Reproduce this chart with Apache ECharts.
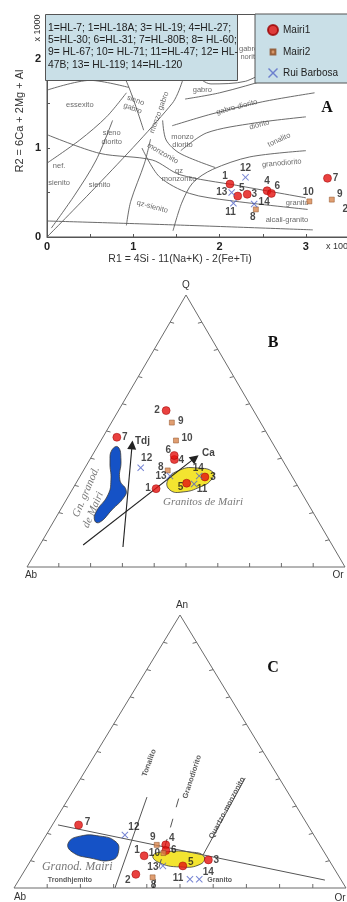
<!DOCTYPE html>
<html>
<head>
<meta charset="utf-8">
<script src="https://cdn.jsdelivr.net/npm/echarts@6/dist/echarts.min.js"></script>
<style>
  html, body { margin: 0; padding: 0; background: #fff; }
  #chart { width: 347px; height: 902px; }
</style>
</head>
<body>
<div id="chart"></div>
<script>
// sample ids per group
const mairi1Ids = ['1', '2', '3', '4', '5', '6', '7'];
const mairi2Ids = ['8', '9', '10'];
const ruiIds = ['11', '12', '13', '14'];

// A: R1 - R2 (x 1000)
const r1Mairi1 = [2.12, 3.56, 2.32, 2.55, 2.21, 2.60, 3.25];
const r2Mairi1 = [0.595, 0.31, 0.48, 0.52, 0.46, 0.49, 0.66];
const r1Mairi2 = [2.42, 3.30, 3.04];
const r2Mairi2 = [0.31, 0.42, 0.40];
const r1Rui = [2.16, 2.30, 2.14, 2.40];
const r2Rui = [0.38, 0.67, 0.50, 0.37];

// B: Q - Ab - Or (%)
const bQMairi1 = [28.8, 57.5, 33.1, 39.5, 30.8, 41.0, 47.7];
const bAbMairi1 = [45.0, 27.5, 27.5, 33.9, 34.4, 33.2, 47.9];
const bOrMairi1 = [26.2, 15.0, 39.4, 26.6, 34.8, 25.8, 4.4];
const bQMairi2 = [35.5, 53.1, 46.5];
const bAbMairi2 = [38.0, 27.9, 29.9];
const bOrMairi2 = [26.5, 19.0, 23.6];
const bQRui = [30.5, 36.5, 33.5, 33.5];
const bAbRui = [32.2, 46.0, 38.3, 29.1];
const bOrRui = [37.3, 17.5, 28.2, 37.4];

// C: An - Ab - Or (%)
const cAnMairi1 = [11.8, 5.0, 10.3, 15.8, 8.1, 13.7, 23.1];
const cAbMairi1 = [54.9, 60.8, 36.3, 46.4, 45.1, 47.4, 69.0];
const cOrMairi1 = [33.3, 34.2, 53.4, 37.8, 46.8, 38.9, 7.9];
const cAnMairi2 = [3.9, 15.8, 12.8];
const cAbMairi2 = [56.3, 49.1, 48.6];
const cOrMairi2 = [39.8, 35.1, 38.6];
const cAnRui = [3.2, 19.4, 8.1, 3.2];
const cAbRui = [45.4, 56.9, 51.1, 42.6];
const cOrRui = [51.4, 23.7, 40.8, 54.2];

// A: field boundaries [R1, R2]
const lineBase = [[0, 0.18], [1.5, 0.135], [3.08, 0.08]];
const lineDiag = [[0, 0], [1.45, 1.5], [1.62, 1.92]];
const lineNef = [[0, 0.83], [0.38, 1.09], [0.69, 1.35], [0.92, 1.62]];
const lineSienito = [[0.05, 0.1], [0.32, 0.47], [0.57, 0.865], [0.76, 1.31]];
const lineMonzonito = [[0, 1.15], [0.61, 0.94], [1.22, 0.865], [1.54, 0.70], [2.2, 0.58], [3.0, 0.44]];
const lineGranito = [[1.1, 1.0], [1.3, 0.68], [1.65, 0.49], [2.11, 0.41], [3.02, 0.31]];
const lineQzSienito = [[1.46, 0.07], [1.56, 0.38], [1.69, 0.61], [1.92, 0.76], [2.35, 0.9], [3.0, 0.97]];
const lineSienoQz = [[0.92, 0.13], [0.97, 0.4], [1.13, 0.83], [1.2, 1.1]];
const lineMonzoDiorito = [[1.34, 1.31], [1.38, 1.09], [1.54, 0.94], [1.95, 0.78]];
const lineDiorito = [[1.55, 0.97], [1.85, 1.17], [2.4, 1.28], [3.0, 1.35]];
const lineGabroDiorito = [[1.45, 1.25], [1.9, 1.38], [2.5, 1.52], [3.1, 1.62]];
const lineGabro = [[1.6, 1.55], [2.0, 1.62], [2.6, 1.78], [3.1, 1.92]];
const lineGabroArc = [[1.65, 2.3], [1.72, 1.85], [1.9, 1.72], [2.3, 1.75], [2.6, 1.9]];
const lineEssexito = [[0, 1.65], [0.5, 1.76], [0.95, 1.68]];
const lineSienoGabro = [[0.75, 2.1], [0.95, 1.68], [1.12, 1.2]];
const fieldLinesA = [lineBase, lineDiag, lineNef, lineSienito, lineMonzonito, lineGranito, lineQzSienito,
  lineSienoQz, lineMonzoDiorito, lineDiorito, lineGabroDiorito, lineGabro, lineGabroArc, lineEssexito, lineSienoGabro];

// A: field names
const fieldNamesA = ['essexito', 'sieno\ngabro', 'monzo gabro', 'gabro', 'gabro-\nnorito', 'gabro-diorito', 'diorito',
  'tonalito', 'granodiorito', 'granito', 'alcali-granito', 'qz\nmonzonito', 'qz-sienito', 'sienito', 'nef.\n\nsienito',
  'sieno\ndiorito', 'monzo\ndiorito', 'monzonito'];
const fieldR1A = [0.38, 1.01, 1.30, 1.80, 2.35, 2.20, 2.46, 2.69, 2.72, 2.90, 2.78, 1.53, 1.22, 0.61, 0.14, 0.75, 1.57, 1.34];
const fieldR2A = [1.48, 1.49, 1.40, 1.65, 2.07, 1.46, 1.26, 1.09, 0.83, 0.38, 0.19, 0.70, 0.34, 0.58, 0.70, 1.12, 1.08, 0.94];
const fieldRotA = [0, -20, 70, 0, 0, 15, 15, 25, 5, 0, 0, 0, -15, 0, 0, 0, 0, -30];

// B: fields and trends as [Q, Or]
const fieldBGranod = [[44.1, 6.6], [39.3, 9.9], [32.0, 13.2], [28.3, 17.0], [25.7, 17.7], [21.0, 16.2], [16.5, 14.7],
  [16.9, 12.9], [20.2, 11.6], [26.5, 12.2], [32.0, 10.4], [38.6, 6.8], [43.0, 5.2]];
const fieldBGranitos = [[32.0, 28.3], [35.7, 30.3], [36.4, 35.3], [34.9, 41.0], [32.0, 41.9], [29.4, 39.7], [27.6, 35.3], [28.3, 30.8]];
const trendTdj = [[7.35, 26.5], [44.9, 10.6]];
const trendCa = [[8.1, 13.6], [40.1, 32.8]];

// C: fields and boundaries as [An, Or]
const fieldCGranod = [[16.5, 8.1], [19.0, 10.4], [19.0, 16.4], [17.2, 21.8], [13.9, 24.6], [10.3, 24.4], [11.0, 17.4], [13.2, 10.9]];
const fieldCGranitos = [[12.1, 35.9], [13.3, 39.5], [13.2, 46.4], [11.7, 51.3], [8.8, 51.9], [7.7, 46.2], [9.5, 38.6]];
const cLineMain = [[23.1, 1.7], [2.9, 92.2]];
const cLineTonalito = [[0, 30.4], [33.3, 23.4]];
const cLineGranodiorito = [[0, 41.9], [37.0, 32.1]];
const cLineQzMonzonito = [[12.1, 50.9], [40.3, 49.5]];

// label offsets (px) per sample
const labelOffA = { '1': [-5, -8], '2': [-9, 0], '3': [7, 0], '4': [0, -9], '5': [4, -8], '6': [6, -7], '7': [8, 0],
  '8': [-3, 8], '9': [8, -5], '10': [-1, -9], '11': [-3, 9], '12': [0, -9], '13': [-10, 0], '14': [10, -2] };
const labelOffB = { '1': [-8, 0], '2': [-9, 0], '3': [8, 0], '4': [7, 1], '5': [-6, 4], '6': [-6, -5], '7': [8, 0],
  '8': [-7, -3], '9': [9, -1], '10': [11, -2], '11': [8, 5], '12': [6, -9], '13': [-9, 0], '14': [-1, -8] };
const labelOffC = { '1': [-7, -6], '2': [-8, 6], '3': [8, 0], '4': [6, -7], '5': [8, -4], '6': [8, 0], '7': [9, -3],
  '8': [1, 8], '9': [-4, -8], '10': [-9, 0], '11': [-12, -1], '12': [9, -8], '13': [-10, 1], '14': [9, -7] };

const H = Math.sqrt(3) / 2;
// ternary (top, left, right) -> x,y in the triangle frame
function tern(top, left, right) {
  const s = top + left + right;
  return [(right + top / 2) / s, (top / s) * H];
}
const tOr = (p) => tern(p[0], 100 - p[0] - p[1], p[1]);

const FONT = 'Liberation Sans';
const RED = '#e3110f', ORANGE = '#d8864e', BLUE = '#5566c8';
const X_PATH = 'path://M0,1 L1,0 L5,4 L9,0 L10,1 L6,5 L10,9 L9,10 L5,6 L1,10 L0,9 L4,5 Z';
const SMALL_SQ = 'path://M0,0 L0.01,0 Z M10,10 L10,10.01 Z M2.6,2.6 L7.4,2.6 L7.4,7.4 L2.6,7.4 Z';

function groupStyle(name) {
  if (name === 'Mairi1') return { symbol: 'circle', symbolSize: 8, itemStyle: { color: RED, borderColor: '#9a0000', borderWidth: 0.6 } };
  if (name === 'Mairi2') return { symbol: 'rect', symbolSize: 5, itemStyle: { color: ORANGE, borderColor: '#8a4a20', borderWidth: 0.6 } };
  return { symbol: X_PATH, symbolSize: 7, itemStyle: { color: BLUE } };
}

function pointSeries(name, idx, ids, pts, offs) {
  return Object.assign({
    name, type: 'scatter', xAxisIndex: idx, yAxisIndex: idx, z: 5, clip: false,
    data: ids.map((id, i) => ({
      name: id, value: pts[i],
      label: { offset: offs[id] }
    })),
    label: { show: true, position: 'inside', formatter: '{b}', fontSize: 10, fontWeight: 'bold', color: '#1a1a1a', fontFamily: FONT }
  }, groupStyle(name));
}

function frameSeries(idx) {
  return {
    type: 'custom', xAxisIndex: idx, yAxisIndex: idx, silent: true, z: 1, data: [[0, 0]],
    renderItem: (params, api) => {
      const c = (t, l, r) => api.coord(tern(t, l, r));
      const pA = c(0, 100, 0), pB = c(0, 0, 100), pT = c(100, 0, 0);
      const st = { stroke: '#6b6b6b', lineWidth: 1, fill: null };
      const children = [{ type: 'polyline', shape: { points: [pA, pB, pT, pA] }, style: st }];
      for (let f = 10; f < 100; f += 10) {
        const b = c(0, 100 - f, f);
        children.push({ type: 'line', shape: { x1: b[0], y1: b[1], x2: b[0], y2: b[1] - 4 }, style: st });
        const l = c(f, 100 - f, 0);
        children.push({ type: 'line', shape: { x1: l[0], y1: l[1], x2: l[0] + 4, y2: l[1] + 1 }, style: st });
        const r = c(f, 0, 100 - f);
        children.push({ type: 'line', shape: { x1: r[0], y1: r[1], x2: r[0] - 4, y2: r[1] + 1 }, style: st });
      }
      return { type: 'group', children };
    }
  };
}

function fieldSeries(idx, pts, fill) {
  return {
    type: 'custom', xAxisIndex: idx, yAxisIndex: idx, silent: true, z: 2, data: [[0, 0]],
    renderItem: (params, api) => ({
      type: 'polygon',
      shape: { points: pts.map((p) => api.coord(tOr(p))), smooth: 0.5 },
      style: { fill, stroke: '#3a3a3a', lineWidth: 0.8 }
    })
  };
}

function segSeries(idx, pts, dashed) {
  return {
    type: 'line', xAxisIndex: idx, yAxisIndex: idx, silent: true, z: 3, symbol: 'none',
    data: pts.map(tOr),
    lineStyle: { color: '#555', width: 1, type: dashed ? [9, 12] : 'solid' }
  };
}

function textSeries(idx, items) {
  return {
    type: 'scatter', xAxisIndex: idx, yAxisIndex: idx, silent: true, z: 4, symbolSize: 0,
    data: items.map((it) => ({ name: it[0], value: it[1], label: it[2] })),
    label: { show: true, position: 'inside', formatter: '{b}', color: '#333', fontFamily: FONT }
  };
}

const series = [];

// ---- panel A
fieldLinesA.forEach((ln) => {
  series.push({
    type: 'line', xAxisIndex: 0, yAxisIndex: 0, silent: true, z: 1, symbol: 'none', smooth: 0.3,
    data: ln, lineStyle: { color: '#5a5a5a', width: 0.9 }
  });
});
series.push(textSeries(0, fieldNamesA.map((n, i) => [n, [fieldR1A[i], fieldR2A[i]],
  { rotate: fieldRotA[i], fontSize: 7.5, lineHeight: 8.5, color: '#444' }])));
const zip = (a, b) => a.map((v, i) => [v, b[i]]);
series.push(pointSeries('Mairi1', 0, mairi1Ids, zip(r1Mairi1, r2Mairi1), labelOffA));
series.push(pointSeries('Mairi2', 0, mairi2Ids, zip(r1Mairi2, r2Mairi2), labelOffA));
series.push(pointSeries('Rui Barbosa', 0, ruiIds, zip(r1Rui, r2Rui), labelOffA));

// ---- panel B
series.push(frameSeries(1));
series.push(fieldSeries(1, fieldBGranod, '#1552c6'));
series.push(fieldSeries(1, fieldBGranitos, '#f3e430'));
series.push({
  type: 'lines', coordinateSystem: 'cartesian2d', xAxisIndex: 1, yAxisIndex: 1, silent: true, z: 3,
  symbol: ['none', 'triangle'], symbolSize: 9,
  lineStyle: { color: '#222', width: 1.1, opacity: 1 },
  data: [{ coords: trendTdj.map(tOr) }, { coords: trendCa.map(tOr) }]
});
series.push(textSeries(1, [
  ['Tdj', tOr([46.4, 13.1]), { fontSize: 10, fontWeight: 'bold', color: '#111' }],
  ['Ca', tOr([41.7, 36.2]), { fontSize: 10, fontWeight: 'bold', color: '#111' }],
  ['Granitos de Mairi', tOr([23.7, 43.5]), { fontSize: 11, fontStyle: 'italic', fontFamily: 'Liberation Serif', color: '#555' }],
  ['Gn. granod.', tOr([27.6, 4.8]), { fontSize: 11, fontStyle: 'italic', fontFamily: 'Liberation Serif', color: '#555', rotate: 67 }],
  ['de Mairi', tOr([21.0, 10.3]), { fontSize: 11, fontStyle: 'italic', fontFamily: 'Liberation Serif', color: '#555', rotate: 67 }]
]));
series.push(pointSeries('Mairi1', 1, mairi1Ids, bQMairi1.map((q, i) => tern(q, bAbMairi1[i], bOrMairi1[i])), labelOffB));
series.push(pointSeries('Mairi2', 1, mairi2Ids, bQMairi2.map((q, i) => tern(q, bAbMairi2[i], bOrMairi2[i])), labelOffB));
series.push(pointSeries('Rui Barbosa', 1, ruiIds, bQRui.map((q, i) => tern(q, bAbRui[i], bOrRui[i])), labelOffB));

// ---- panel C
series.push(frameSeries(2));
series.push(fieldSeries(2, fieldCGranod, '#1552c6'));
series.push(fieldSeries(2, fieldCGranitos, '#f3e430'));
series.push(segSeries(2, cLineMain, false));
series.push(segSeries(2, cLineTonalito, false));
series.push(segSeries(2, cLineGranodiorito, true));
series.push(segSeries(2, cLineQzMonzonito, false));
series.push(textSeries(2, [
  ['Granod. Mairi', tOr([7.7, 15.2]), { fontSize: 12, fontStyle: 'italic', fontFamily: 'Liberation Serif', color: '#555' }],
  ['Trondhjemito', tOr([2.9, 15.4]), { fontSize: 7, fontWeight: 'bold', color: '#333' }],
  ['Granito', tOr([2.9, 60.5]), { fontSize: 7, fontWeight: 'bold', color: '#333' }],
  ['Tonalito', tOr([45.8, 17.8]), { fontSize: 7.5, fontWeight: 'bold', color: '#333', rotate: 70 }],
  ['Granodiorito', tOr([40.7, 33.3]), { fontSize: 7.5, fontWeight: 'bold', color: '#333', rotate: 72 }],
  ['Quartzo-monzonito', tOr([29.3, 49.5]), { fontSize: 7.5, fontWeight: 'bold', color: '#333', rotate: 62 }]
]));
series.push(pointSeries('Mairi1', 2, mairi1Ids, cAnMairi1.map((q, i) => tern(q, cAbMairi1[i], cOrMairi1[i])), labelOffC));
series.push(pointSeries('Mairi2', 2, mairi2Ids, cAnMairi2.map((q, i) => tern(q, cAbMairi2[i], cOrMairi2[i])), labelOffC));
series.push(pointSeries('Rui Barbosa', 2, ruiIds, cAnRui.map((q, i) => tern(q, cAbRui[i], cOrRui[i])), labelOffC));

const hiddenAxis = (max) => ({ type: 'value', min: 0, max, show: false });
const boxText = '1=HL-7; 1=HL-18A; 3= HL-19; 4=HL-27;\n5=HL-30; 6=HL-31; 7=HL-80B; 8= HL-60;\n9= HL-67; 10= HL-71; 11=HL-47; 12= HL-\n47B; 13= HL-119; 14=HL-120';

const option = {
  animation: false,
  textStyle: { fontFamily: FONT },
  grid: [
    { left: 47, top: 14.5, width: 310.7, height: 222.5, show: true, borderColor: '#555', borderWidth: 1, outerBoundsMode: 'none', containLabel: false },
    { left: 27, top: 295, width: 318, height: 272, outerBoundsMode: 'none' },
    { left: 14, top: 615, width: 332, height: 273, outerBoundsMode: 'none' }
  ],
  xAxis: [
    {
      type: 'value', gridIndex: 0, min: 0, max: 3.6, interval: 0.5,
      axisLine: { lineStyle: { color: '#555' } },
      axisTick: { inside: true, length: 3, lineStyle: { color: '#555' } },
      splitLine: { show: false },
      axisLabel: { formatter: (v) => (Number.isInteger(v) ? String(v) : ''), fontSize: 11, fontWeight: 'bold', color: '#222', margin: 4 }
    },
    Object.assign({ gridIndex: 1 }, hiddenAxis(1)),
    Object.assign({ gridIndex: 2 }, hiddenAxis(1))
  ],
  yAxis: [
    {
      type: 'value', gridIndex: 0, min: 0, max: 2.5, interval: 0.5,
      axisLine: { lineStyle: { color: '#555' } },
      axisTick: { inside: true, length: 3, lineStyle: { color: '#555' } },
      splitLine: { show: false },
      axisLabel: { formatter: (v) => (Number.isInteger(v) ? String(v) : ''), fontSize: 11, fontWeight: 'bold', color: '#222', margin: 6 }
    },
    Object.assign({ gridIndex: 1 }, hiddenAxis(H)),
    Object.assign({ gridIndex: 2 }, hiddenAxis(H))
  ],
  legend: {
    data: [
      { name: 'Mairi1', icon: 'circle' },
      { name: 'Mairi2', icon: SMALL_SQ },
      { name: 'Rui Barbosa', icon: X_PATH }
    ],
    orient: 'vertical', left: 255, top: 14, z: 10,
    backgroundColor: '#c9dfe7', borderColor: '#555', borderWidth: 1,
    padding: [10, 40, 5, 12], itemGap: 10, itemWidth: 10, itemHeight: 10,
    selectedMode: false,
    textStyle: { fontSize: 10, color: '#222', fontFamily: FONT }
  },
  graphic: [
    { type: 'rect', left: 45, top: 14, z: 10, shape: { width: 192, height: 66 }, style: { fill: '#c9dfe7', stroke: '#555', lineWidth: 1 } },
    { type: 'text', left: 48, top: 21.5, z: 11, style: { text: boxText, fontSize: 10.3, lineHeight: 12.4, fill: '#222', fontFamily: FONT } },
    { type: 'text', x: 38, y: 28, rotation: Math.PI / 2, z: 11, style: { text: 'x 1000', fontSize: 9, fill: '#333', align: 'center', verticalAlign: 'middle', fontFamily: FONT } },
    { type: 'text', x: 326, y: 247, z: 11, style: { text: 'x 1000', fontSize: 9, fill: '#333', verticalAlign: 'middle', fontFamily: FONT } },
    { type: 'text', x: 20, y: 121, rotation: Math.PI / 2, z: 11, style: { text: 'R2 = 6Ca + 2Mg + Al', fontSize: 11, fill: '#333', align: 'center', verticalAlign: 'middle', fontFamily: FONT } },
    { type: 'text', x: 180, y: 259, z: 11, style: { text: 'R1 = 4Si - 11(Na+K) - 2(Fe+Ti)', fontSize: 10.5, fill: '#333', align: 'center', verticalAlign: 'middle', fontFamily: FONT } },
    { type: 'text', x: 327, y: 108, z: 11, style: { text: 'A', fontSize: 16, fontWeight: 'bold', fill: '#111', align: 'center', verticalAlign: 'middle', fontFamily: 'Liberation Serif' } },
    { type: 'text', x: 273, y: 343, z: 11, style: { text: 'B', fontSize: 16, fontWeight: 'bold', fill: '#111', align: 'center', verticalAlign: 'middle', fontFamily: 'Liberation Serif' } },
    { type: 'text', x: 273, y: 668, z: 11, style: { text: 'C', fontSize: 16, fontWeight: 'bold', fill: '#111', align: 'center', verticalAlign: 'middle', fontFamily: 'Liberation Serif' } },
    { type: 'text', x: 186, y: 285, z: 11, style: { text: 'Q', fontSize: 10, fill: '#333', align: 'center', verticalAlign: 'middle', fontFamily: FONT } },
    { type: 'text', x: 31, y: 575, z: 11, style: { text: 'Ab', fontSize: 10, fill: '#333', align: 'center', verticalAlign: 'middle', fontFamily: FONT } },
    { type: 'text', x: 338, y: 575, z: 11, style: { text: 'Or', fontSize: 10, fill: '#333', align: 'center', verticalAlign: 'middle', fontFamily: FONT } },
    { type: 'text', x: 182, y: 605, z: 11, style: { text: 'An', fontSize: 10, fill: '#333', align: 'center', verticalAlign: 'middle', fontFamily: FONT } },
    { type: 'text', x: 20, y: 897, z: 11, style: { text: 'Ab', fontSize: 10, fill: '#333', align: 'center', verticalAlign: 'middle', fontFamily: FONT } },
    { type: 'text', x: 340, y: 898, z: 11, style: { text: 'Or', fontSize: 10, fill: '#333', align: 'center', verticalAlign: 'middle', fontFamily: FONT } }
  ],
  series
};

const chart = echarts.init(document.getElementById('chart'));
chart.setOption(option);
</script>
</body>
</html>
